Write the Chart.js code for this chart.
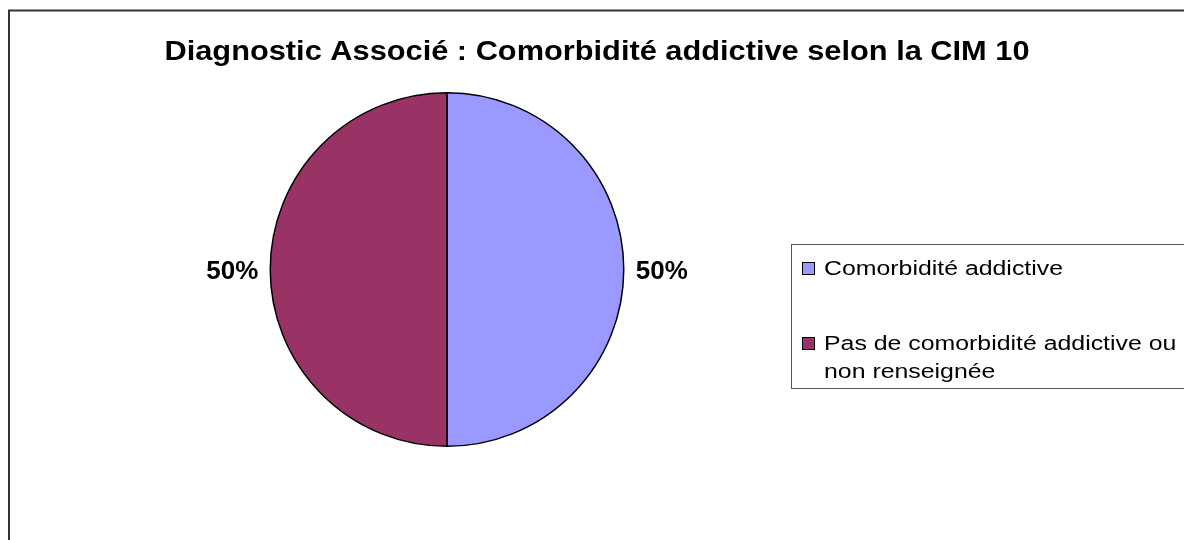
<!DOCTYPE html>
<html>
<head>
<meta charset="utf-8">
<script src="https://cdn.jsdelivr.net/npm/chart.js@4/dist/chart.umd.min.js"></script>
<style>
  html, body { margin: 0; padding: 0; background: #fff; }
  #wrap { width: 1184px; height: 540px; position: relative; }
</style>
</head>
<body>
<div id="wrap"><canvas id="pie" width="1184" height="540"></canvas></div>
<script>
// données
const TITLE = "Diagnostic Associé : Comorbidité addictive selon la CIM 10";
const LABELS = ["Comorbidité addictive", "Pas de comorbidité addictive ou non renseignée"];
const LEGEND_LINES = [["Comorbidité addictive"], ["Pas de comorbidité addictive ou", "non renseignée"]];
const VALUES = [50, 50];
const COLORS = ["#9999FF", "#993366"];

const FONT = "'Liberation Sans', Arial, sans-serif";

// texte étiré horizontalement (le rendu d'origine est plus large que haut)
function wideText(c, txt, x, y, sx) {
    c.save();
    c.translate(x, y);
    c.scale(sx, 1);
    c.fillText(txt, 0, 0);
    c.restore();
}

// cadre, titre, légende et pourcentages
const decor = {
    id: 'decor',
    beforeDraw(chart) {
        const c = chart.ctx;
        c.save();
        c.fillStyle = '#fff';
        c.fillRect(0, 0, chart.width, chart.height);
        c.strokeStyle = '#333';
        c.lineWidth = 2;
        c.strokeRect(9, 10.5, 1300, 700);
        c.restore();
    },
    afterDraw(chart) {
        const c = chart.ctx;
        c.save();
        // titre
        c.fillStyle = '#000';
        c.font = "bold 28px " + FONT;
        c.textAlign = 'center';
        c.textBaseline = 'alphabetic';
        const tw = c.measureText(TITLE).width;
        wideText(c, TITLE, 597, 60, 865 / tw);

        // pourcentages
        c.font = "bold 26px " + FONT;
        c.textBaseline = 'middle';
        const meta = chart.getDatasetMeta(0);
        const total = VALUES.reduce((a, b) => a + b, 0);
        meta.data.forEach((arc, i) => {
            const p = arc.getProps(['x', 'y', 'startAngle', 'endAngle', 'outerRadius'], true);
            const mid = (p.startAngle + p.endAngle) / 2;
            const r = p.outerRadius + 38;
            const pct = Math.round(VALUES[i] / total * 100) + '%';
            c.fillText(pct, p.x + Math.cos(mid) * r, p.y + Math.sin(mid) * r + 2);
        });

        // légende
        c.strokeStyle = '#555';
        c.lineWidth = 1;
        c.strokeRect(791.5, 244.5, 500, 144);
        c.font = "20px " + FONT;
        c.textAlign = 'left';
        c.textBaseline = 'alphabetic';
        const sx = 239 / c.measureText(LEGEND_LINES[0][0]).width;
        const rows = [[275], [350, 378]];
        LEGEND_LINES.forEach((lines, i) => {
            const y0 = rows[i][0];
            c.fillStyle = COLORS[i];
            c.fillRect(802.5, y0 - 12.5, 12, 12);
            c.strokeStyle = '#000';
            c.strokeRect(802.5, y0 - 12.5, 12, 12);
            c.fillStyle = '#000';
            lines.forEach((t, j) => wideText(c, t, 824, rows[i][j], sx));
        });
        c.restore();
    }
};

new Chart(document.getElementById('pie'), {
    type: 'pie',
    data: {
        labels: LABELS,
        datasets: [{
            data: VALUES,
            backgroundColor: COLORS,
            borderColor: '#000',
            borderWidth: 1.5
        }]
    },
    options: {
        responsive: false,
        animation: false,
        layout: { padding: { left: 269.5, right: 559.5, top: 92, bottom: 93 } },
        plugins: {
            legend: { display: false },
            title: { display: false },
            tooltip: { enabled: false }
        }
    },
    plugins: [decor]
});
</script>
</body>
</html>
